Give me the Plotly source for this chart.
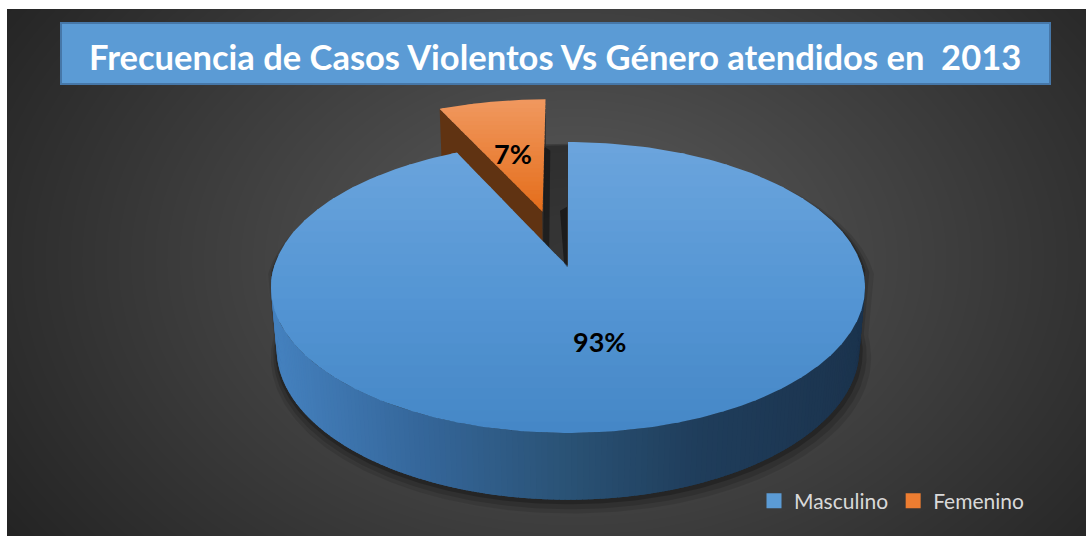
import numpy as np
import plotly.graph_objects as go

# ---------------- data ----------------
categories = ["Masculino", "Femenino"]
values = [93, 7]
explode = [0.0, 0.42]
legend_colors = ["#5b9bd5", "#ed7d31"]
title_text = "Frecuencia de Casos Violentos Vs Género atendidos en\u00a0 2013"

# ---------------- styles ----------------
top_stops = [
    [(140, "#6ca5dd"), (290, "#5596d4"), (440, "#4486c6")],
    [(95, "#f19a62"), (215, "#e46c18")],
]
side_stops = [
    [(271, "#4582c0"), (420, "#35679b"), (570, "#2a5275"), (700, "#1f3d5b"), (865, "#1b334d")],
    [(430, "#e06a1a"), (560, "#c95a12")],
]
cut_stops = [
    [(300, "#2f5f90"), (600, "#2a5378")],
    [(440, "#673814"), (530, "#5a2f10"), (541, "#5a2f10"), (543, "#2e2e2e")],
]

ELEV = np.radians(29.0)
DIST = 6.2
THICK = 0.24
CX, CY = 568.0, 267.0
HALF_W = 297.0
ce, se = np.cos(ELEV), np.sin(ELEV)
_ph = np.linspace(-np.pi, np.pi, 4001)
KSCALE = HALF_W / np.max(np.cos(_ph) / (DIST + ce * np.sin(_ph)))


def proj(x, y, z):
    x = np.asarray(x, float)
    y = np.asarray(y, float)
    z = np.asarray(z, float)
    depth = DIST + y * ce - z * se
    up = y * se + z * ce
    return CX + KSCALE * x / depth, CY - KSCALE * up / depth


def hex2rgb(h):
    h = h.lstrip("#")
    return [int(h[i:i + 2], 16) for i in (0, 2, 4)]


def lerp_stops(stops, v):
    if v <= stops[0][0]:
        c = hex2rgb(stops[0][1])
    elif v >= stops[-1][0]:
        c = hex2rgb(stops[-1][1])
    else:
        for (p0, c0), (p1, c1) in zip(stops[:-1], stops[1:]):
            if p0 <= v <= p1:
                t = (v - p0) / (p1 - p0)
                a, b = hex2rgb(c0), hex2rgb(c1)
                c = [a[i] + t * (b[i] - a[i]) for i in range(3)]
                break
    return "rgb(%d,%d,%d)" % tuple(int(round(q)) for q in c)


def clip_half(pts, yb, keep_above):
    out = []
    n = len(pts)
    for i in range(n):
        P, Q = pts[i], pts[(i + 1) % n]
        pin = P[1] >= yb if keep_above else P[1] <= yb
        qin = Q[1] >= yb if keep_above else Q[1] <= yb
        if pin:
            out.append(P)
        if pin != qin:
            t = (yb - P[1]) / (Q[1] - P[1])
            out.append((P[0] + t * (Q[0] - P[0]), yb))
    return out


fig = go.Figure()


def add_poly(xs, ys, color):
    xs = list(xs) + [xs[0]]
    ys = list(ys) + [ys[0]]
    fig.add_trace(go.Scatter(x=xs, y=ys, mode="lines", fill="toself", fillcolor=color,
                             line=dict(width=0), hoverinfo="skip", showlegend=False))


def grad_fill_y(xs, ys, stops, nb=26):
    pts = list(zip(xs, ys))
    edges = np.linspace(min(ys), max(ys), nb + 1)
    for i in range(nb):
        y0 = edges[i]
        y1 = edges[i + 1] + (1.0 if i < nb - 1 else 0.0)
        poly = clip_half(clip_half(pts, y0, True), y1, False)
        if len(poly) < 3:
            continue
        col = lerp_stops(stops, 0.5 * (edges[i] + edges[i + 1]))
        add_poly([p[0] for p in poly], [p[1] for p in poly], col)


# ---------------- background (radial gray gradient) ----------------
gx = np.linspace(7, 1086, 70)
gy = np.linspace(9, 536, 40)
GX, GY = np.meshgrid(gx, gy)
R = np.sqrt(((GX - 575) / 560.0) ** 2 + ((GY - 260) / 400.0) ** 2)
G = np.clip(92 - 46 * R, 34, 255)
fig.add_trace(go.Heatmap(x=gx, y=gy, z=G, zmin=0, zmax=255, zsmooth="best",
                         colorscale=[[0, "rgb(0,0,0)"], [1, "rgb(255,255,255)"]],
                         showscale=False, hoverinfo="skip"))

# ---------------- pie geometry ----------------
total = float(sum(values))
slices = []
cum = 0.0
for i, v in enumerate(values):
    t0 = np.radians(90.0 - 360.0 * cum / total)
    t1 = np.radians(90.0 - 360.0 * (cum + v) / total)
    mid = 0.5 * (t0 + t1)
    off = (explode[i] * np.cos(mid), explode[i] * np.sin(mid))
    slices.append(dict(i=i, t0=t0, t1=t1, mid=mid, off=off))
    cum += v

# drop shadow of the disc
phi_top = np.linspace(0, np.pi, 200)
phi_bot = np.linspace(np.pi, 2 * np.pi, 200)
sx1, sy1 = proj(np.cos(phi_top), np.sin(phi_top), 0 * phi_top)
sx2, sy2 = proj(np.cos(phi_bot), np.sin(phi_bot), 0 * phi_bot - THICK)
SX = np.concatenate([sx1, sx2])
SY = np.concatenate([sy1, sy2])
for grow, dx, dy, op in [(1.03, 3, 8, 0.10), (1.018, 2, 6, 0.14), (1.008, 1, 3, 0.22)]:
    add_poly(CX + (SX - CX) * grow + dx, CY + 40 + (SY - CY - 40) * grow + dy, "rgba(0,0,0,%.2f)" % op)

camera = np.array([0.0, -DIST * ce, DIST * se])

# paint back to front
for sl in sorted(slices, key=lambda d: -(np.sin(d["mid"]) + d["off"][1])):
    i = sl["i"]
    ox, oy = sl["off"]
    # radial cut faces
    for ang, nrm in [(sl["t0"], sl["t0"] + np.pi / 2), (sl["t1"], sl["t1"] - np.pi / 2)]:
        if abs(values[i] - total) < 1e-9:
            continue
        P = np.array([ox + 0.5 * np.cos(ang), oy + 0.5 * np.sin(ang), -THICK / 2])
        n = np.array([np.cos(nrm), np.sin(nrm), 0.0])
        if np.dot(camera - P, n) > 1e-6:
            X3 = [ox, ox + np.cos(ang), ox + np.cos(ang), ox]
            Y3 = [oy, oy + np.sin(ang), oy + np.sin(ang), oy]
            Z3 = [0, 0, -THICK, -THICK]
            px, py = proj(X3, Y3, Z3)
            add_poly(px, py, lerp_stops(cut_stops[i], float(np.mean(px))))
    # outer side (front-facing strips)
    nst = max(4, int(abs(sl["t0"] - sl["t1"]) / np.radians(1.0)))
    angs = np.linspace(sl["t1"], sl["t0"], nst + 1)
    for a0, a1 in zip(angs[:-1], angs[1:]):
        if np.sin(0.5 * (a0 + a1)) >= 0:
            continue
        aa = np.linspace(a0, a1 + 0.015, 4)
        X3 = np.concatenate([ox + np.cos(aa), ox + np.cos(aa[::-1])])
        Y3 = np.concatenate([oy + np.sin(aa), oy + np.sin(aa[::-1])])
        Z3 = np.concatenate([np.zeros(4), np.full(4, -THICK)])
        px, py = proj(X3, Y3, Z3)
        add_poly(px, py, lerp_stops(side_stops[i], float(np.mean(px))))
    # top face
    aa = np.linspace(sl["t0"], sl["t1"], 240)
    X3 = np.concatenate([[ox], ox + np.cos(aa)])
    Y3 = np.concatenate([[oy], oy + np.sin(aa)])
    px, py = proj(X3, Y3, np.zeros(len(X3)))
    grad_fill_y(list(px), list(py), top_stops[i])
    # soft shadow cast into the gap, beside the slice's start edge
    if explode[i] > 0:
        ex, ey = proj([ox, ox, ox], [oy + 0.55, oy, oy], [0, 0, -THICK])
        add_poly([ex[0], ex[0] + 6, ex[2] + 6, ex[2]],
                 [ey[0], ey[0] + 4, ey[2] + 3, ey[2]], "rgba(0,0,0,0.40)")
    else:
        ex, ey = proj([0, 0], [0.45, 0.0], [0, 0])
        add_poly([ex[0] - 1, ex[0] - 8, ex[1] - 4, ex[1] - 1],
                 [ey[0], ey[0] + 4, ey[1] - 4, ey[1]], "rgba(0,0,0,0.45)")

# percentage labels
for sl in slices:
    ox, oy = sl["off"]
    lx, ly = proj(ox + 0.5 * np.cos(sl["mid"]), oy + 0.5 * np.sin(sl["mid"]), 0.0)
    pct = "%d%%" % round(100 * values[sl["i"]] / total)
    fig.add_annotation(x=float(lx) - 3, y=float(ly), text="<b>%s</b>" % pct, showarrow=False,
                       font=dict(family="Lato", size=27, color="#000000"),
                       xanchor="center", yanchor="middle")

# legend entries
for cat, col in zip(categories, legend_colors):
    fig.add_trace(go.Scatter(x=[None], y=[None], mode="markers", name=cat,
                             marker=dict(symbol="square", size=15, color=col), showlegend=True))

# title box
fig.add_shape(type="rect", xref="x", yref="y", x0=61, x1=1050, y0=23, y1=84,
              fillcolor="#5b9bd5", line=dict(color="#4677a8", width=2), layer="above")
fig.add_annotation(x=555, y=57, xref="x", yref="y", text="<b>%s</b>" % title_text,
                   showarrow=False, font=dict(family="Lato", size=34.5, color="#ffffff"),
                   xanchor="center", yanchor="middle")

W, H = 1086, 536
fig.update_layout(
    width=W, height=H, margin=dict(l=0, r=0, t=0, b=0),
    paper_bgcolor="#ffffff", plot_bgcolor="#333333",
    xaxis=dict(domain=[7 / W, 1], range=[7, 1086], visible=False, fixedrange=True),
    yaxis=dict(domain=[0, (H - 9) / H], range=[536, 9], visible=False, fixedrange=True),
    legend=dict(orientation="h", x=754 / W, xanchor="left", y=1 - 501 / H, yanchor="middle",
                bgcolor="rgba(0,0,0,0)", font=dict(family="Lato", size=21, color="#d9d9d9")),
    showlegend=True,
)

fig.write_html("out.html")
